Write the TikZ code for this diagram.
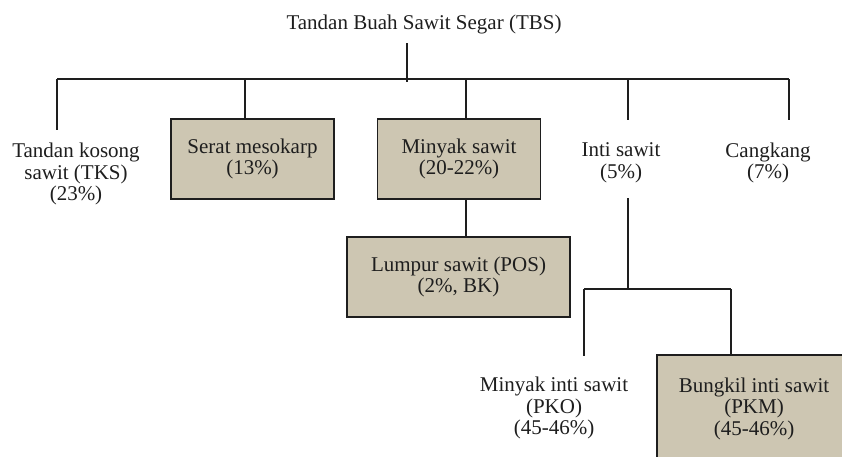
\documentclass[tikz,border=0pt]{standalone}
\usepackage{fontspec}
\setmainfont{Liberation Serif}
\usetikzlibrary{positioning,calc}
\definecolor{boxfill}{RGB}{205,198,178}
\definecolor{ink}{RGB}{30,30,30}
\tikzset{
	part/.style = {align=center, text=ink, font=\fontsize{21}{21.5}\selectfont, inner sep=0pt},
	box/.style = {part, draw=ink, fill=boxfill, line width=1.3pt},
	link/.style = {draw=ink, line width=1.4pt}
}

\begin{document}
\begin{tikzpicture}[x=1pt, y=-1pt]
		\useasboundingbox (0,0) rectangle (842,456);
		\begin{scope}
			\clip (0,0) rectangle (842,456);
			% top
			\node (tbs) at (424,24) [part] {Tandan Buah Sawit Segar (TBS)};
			\coordinate (stub) at (407,43);
			\coordinate (barL) at (57,79);
			\coordinate (barR) at (789,79);
			% first level
			\node (tks) at (76,174) [part] {Tandan kosong\\sawit (TKS)\\(23\%)};
			\node (serat) at (252.5,159) [box, minimum width=163pt, minimum height=80pt] {Serat mesokarp\\(13\%)};
			\node (minyak) at (459,159) [box, minimum width=162.5pt, minimum height=80pt] {Minyak sawit\\(20-22\%)};
			\node (inti) at (621,163) [part] {Inti sawit\\(5\%)};
			\node (cangkang) at (768,163) [part] {Cangkang\\(7\%)};
			% second level
			\node (lumpur) at (458.5,277) [box, minimum width=223pt, minimum height=80pt] {Lumpur sawit (POS)\\(2\%, BK)};
			\node (pko) at (554,408) [part] {Minyak inti sawit\\(PKO)\\(45-46\%)};
			\node (pkm) at (754,408.5) [box, minimum width=194pt, minimum height=107pt] {Bungkil inti sawit\\(PKM)\\(45-46\%)};
			\coordinate (intiTop) at (628,198);
			\coordinate (subL) at (584,289);
			\coordinate (subR) at (731,289);
			% lines
			\draw[link] (stub) -- (stub |- barL) -- ++(0,3);
			\draw[link] (barL) -- (barR);
			\draw[link] (barL) -- ++(0,51);
			\draw[link] (barL -| 245,0) -- (245,0 |- serat.north);
			\draw[link] (barL -| 466,0) -- (466,0 |- minyak.north);
			\draw[link] (barL -| intiTop) -- ++(0,41);
			\draw[link] (barR) -- ++(0,41);
			\draw[link] (466,0 |- minyak.south) -- (466,0 |- lumpur.north);
			\draw[link] (intiTop) -- (intiTop |- subL);
			\draw[link] (subL) -- (subR);
			\draw[link] (subL) -- ++(0,67);
			\draw[link] (subR) -- (subR |- pkm.north);
		\end{scope}
	\end{tikzpicture}
\end{document}
